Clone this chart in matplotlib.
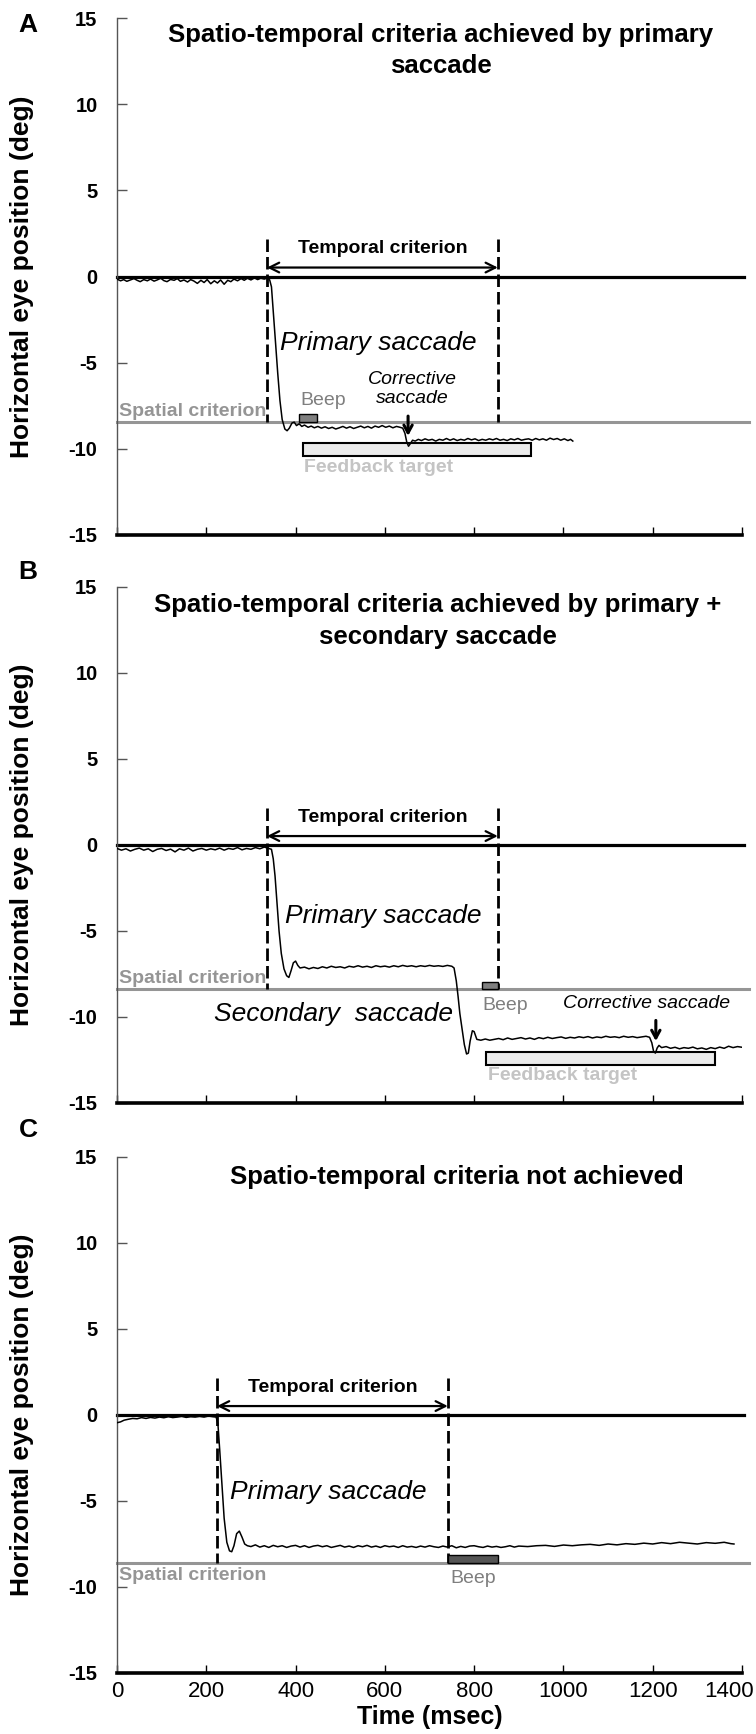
import matplotlib
matplotlib.use("Agg")
import matplotlib.pyplot as plt
from matplotlib.patches import Rectangle
from matplotlib.transforms import ScaledTranslation

plt.rcParams['font.family'] = ['Liberation Sans', 'DejaVu Sans']
plt.rcParams['axes.unicode_minus'] = False

# eye traces (time in msec, position in deg)
trace_a_t = [0, 8, 15, 22, 30, 38, 45, 52, 60, 68, 75, 83, 90, 98, 105, 112, 120, 128, 135, 142,
             150, 158, 165, 172, 180, 188, 195, 202, 210, 218, 225, 232, 240, 248, 255, 262, 270,
             278, 285, 292, 300, 308, 315, 322, 330, 337, 342, 346, 350, 355, 360, 365, 370, 376,
             381, 386, 392, 397, 402, 408, 414, 420, 428, 435, 442, 450, 458, 466, 474, 482, 490,
             498, 506, 514, 522, 530, 538, 546, 554, 562, 570, 578, 586, 594, 602, 610, 618, 626,
             634, 640, 645, 649, 653, 657, 662, 668, 675, 682, 690, 698, 706, 714, 722, 730, 738,
             746, 754, 762, 770, 778, 786, 794, 802, 810, 818, 826, 834, 842, 850, 858, 866, 874,
             882, 890, 898, 906, 914, 922, 930, 938, 946, 954, 962, 970, 978, 986, 994, 1002, 1010,
             1016, 1021]
trace_a_y = [-0.15, -0.25, -0.18, -0.28, -0.2, -0.12, -0.22, -0.3, -0.18, -0.25, -0.15, -0.27,
             -0.2, -0.1, -0.24, -0.3, -0.17, -0.22, -0.12, -0.28, -0.2, -0.32, -0.18, -0.26, -0.4,
             -0.22, -0.35, -0.18, -0.42, -0.25, -0.38, -0.2, -0.45, -0.22, -0.3, -0.15, -0.25, -0.12,
             -0.22, -0.1, -0.2, -0.08, -0.18, -0.1, -0.15, -0.08, -0.2, -0.6, -2.0, -3.8, -5.6,
             -7.2, -8.3, -8.85, -8.95, -8.8, -8.5, -8.45, -8.65, -8.55, -8.7, -8.62, -8.75, -8.68,
             -8.78, -8.7, -8.8, -8.72, -8.82, -8.75, -8.85, -8.78, -8.7, -8.8, -8.72, -8.82, -8.75,
             -8.68, -8.78, -8.7, -8.8, -8.68, -8.75, -8.65, -8.75, -8.68, -8.78, -8.7, -8.75, -8.8,
             -9.1, -9.6, -9.85, -9.7, -9.5, -9.55, -9.45, -9.52, -9.42, -9.5, -9.45, -9.55, -9.45,
             -9.5, -9.4, -9.5, -9.42, -9.52, -9.45, -9.5, -9.4, -9.48, -9.42, -9.52, -9.45, -9.5,
             -9.42, -9.48, -9.4, -9.5, -9.45, -9.52, -9.42, -9.48, -9.4, -9.5, -9.45, -9.42, -9.5,
             -9.4, -9.48, -9.42, -9.5, -9.38, -9.46, -9.4, -9.5, -9.42, -9.52, -9.45, -9.55]

trace_b_t = [0, 10, 20, 30, 40, 50, 60, 70, 80, 90, 100, 110, 120, 130, 140, 150, 160, 170, 180,
             190, 200, 210, 220, 230, 240, 250, 260, 270, 280, 290, 300, 310, 320, 330, 340,
             346, 350, 354, 358, 363, 368, 374, 380, 385, 390, 395, 400, 405, 410,
             420, 430, 440, 450, 460, 470, 480, 490, 500, 510, 520, 530, 540, 550, 560, 570, 580,
             590, 600, 610, 620, 630, 640, 650, 660, 670, 680, 690, 700, 710, 720, 730, 740, 750,
             755, 760, 764, 768, 773, 778, 783, 787, 791, 796, 800, 806,
             815, 825, 835, 845, 855, 865, 875, 885, 895, 905, 915, 925, 935, 945, 955, 965, 975,
             985, 995, 1005, 1015, 1025, 1035, 1045, 1055, 1065, 1075, 1085, 1095, 1105, 1115,
             1125, 1135, 1145, 1155, 1165, 1175, 1185,
             1193, 1198, 1202, 1206, 1210, 1214,
             1220, 1230, 1240, 1250, 1260, 1270, 1280, 1290, 1300, 1310, 1320, 1330, 1340, 1350,
             1360, 1370, 1380, 1390, 1400]
trace_b_y = [-0.2, -0.3, -0.22, -0.35, -0.25, -0.18, -0.3, -0.22, -0.38, -0.25, -0.2, -0.32,
             -0.24, -0.4, -0.22, -0.3, -0.18, -0.35, -0.25, -0.2, -0.3, -0.22, -0.28, -0.18, -0.3,
             -0.2, -0.25, -0.15, -0.28, -0.2, -0.25, -0.15, -0.22, -0.12, -0.2,
             -0.25, -0.8, -1.8, -3.2, -5.0, -6.3, -7.2, -7.6, -7.7, -7.3, -6.85, -6.75, -7.0, -7.15,
             -7.1, -7.2, -7.12, -7.18, -7.08, -7.15, -7.05, -7.12, -7.08, -7.15,
             -7.05, -7.1, -7.02, -7.1, -7.05, -7.12, -7.02, -7.08, -7.04, -7.1,
             -7.02, -7.08, -7.0, -7.06, -7.02, -7.08, -7.02, -7.06, -7.0, -7.05,
             -7.02, -7.06, -7.0, -7.05,
             -7.15, -7.9, -8.8, -9.8, -10.7, -11.6, -12.15, -12.1, -11.4, -10.8, -10.85, -11.3,
             -11.35, -11.28, -11.35, -11.3, -11.25, -11.32, -11.22, -11.3, -11.25, -11.2,
             -11.28, -11.22, -11.3, -11.2, -11.26, -11.18, -11.25, -11.2, -11.16, -11.24,
             -11.18, -11.22, -11.15, -11.2, -11.14, -11.22, -11.16, -11.2, -11.12, -11.18,
             -11.15, -11.2, -11.12, -11.18, -11.14, -11.2, -11.16, -11.12,
             -11.18, -11.5, -12.0, -12.1, -11.8, -11.65,
             -11.78, -11.72, -11.82, -11.76, -11.85, -11.78, -11.82, -11.75, -11.85, -11.8,
             -11.88, -11.78, -11.84, -11.75, -11.82, -11.7, -11.78, -11.72, -11.76]

trace_c_t = [0, 8, 16, 25,
             35, 45, 55, 65, 75, 85, 95, 105, 115, 125, 135, 145, 155, 165, 175, 185, 195, 205, 215,
             222, 226, 230, 235, 240, 246, 252, 257, 262, 268, 274, 280, 286, 292,
             300, 310, 320, 330, 340, 350, 360, 370, 380, 390, 400, 410, 420, 430, 440, 450, 460,
             470, 480, 490, 500, 510, 520, 530, 540, 550, 560, 570, 580, 590, 600, 610, 620, 630,
             640, 650, 660, 670, 680, 690, 700, 710, 720, 730, 740, 750, 760, 770, 780, 790, 800,
             810, 820, 830, 840, 850, 860, 870, 880, 890, 900,
             920, 940, 960, 980, 1000, 1020, 1040, 1060, 1080, 1100, 1120, 1140, 1160, 1180, 1200,
             1220, 1240, 1260, 1280, 1300, 1320, 1340, 1360,
             1375, 1382]
trace_c_y = [-0.45, -0.4, -0.3, -0.25,
             -0.2, -0.22, -0.15, -0.2, -0.14, -0.18, -0.12, -0.16, -0.1, -0.15, -0.12, -0.08,
             -0.14, -0.1, -0.12, -0.08, -0.12, -0.06, -0.1,
             -0.12, -0.5, -2.0, -4.0, -6.0, -7.4, -7.9, -7.95, -7.6, -6.9, -6.75, -7.1, -7.5, -7.6,
             -7.65, -7.55, -7.68, -7.6, -7.7, -7.58, -7.66, -7.6, -7.7, -7.62,
             -7.58, -7.68, -7.6, -7.7, -7.62, -7.58, -7.66, -7.6, -7.7, -7.64,
             -7.58, -7.68, -7.62, -7.7, -7.6, -7.66, -7.58, -7.68, -7.62, -7.7,
             -7.6, -7.66, -7.62, -7.7, -7.6, -7.68, -7.64, -7.7, -7.62, -7.68,
             -7.6, -7.66, -7.7, -7.62, -7.68, -7.6, -7.72, -7.64, -7.7, -7.62,
             -7.6, -7.66, -7.7, -7.62, -7.68, -7.64, -7.7, -7.66, -7.6, -7.68,
             -7.62,
             -7.65, -7.6, -7.58, -7.64, -7.56, -7.6, -7.55, -7.52, -7.58, -7.5,
             -7.55, -7.48, -7.52, -7.45, -7.5, -7.42, -7.48, -7.4, -7.45, -7.5,
             -7.42, -7.46, -7.4,
             -7.48, -7.5]

# task events
temporal_a = [336, 853]
temporal_b = [336, 853]
temporal_c = [224, 741]
spatial_a = -8.45
spatial_b = -8.4
spatial_c = -8.6
beep_a = [408, 448]
beep_b = [818, 853]
beep_c = [741, 853]
feedback_a = [417, 927]
feedback_b = [826, 1340]

titles = ['Spatio-temporal criteria achieved by primary\nsaccade',
          'Spatio-temporal criteria achieved by primary +\nsecondary saccade',
          'Spatio-temporal criteria not achieved']
panel_labels = ['A', 'B', 'C']
x_ticks = [0, 200, 400, 600, 800, 1000, 1200, 1400]
y_ticks = [-15, -10, -5, 0, 5, 10, 15]

SPATIAL_GRAY = '#959595'


def style_axes(ax, show_xlabels):
    ax.set_xlim(0, 1400)
    ax.set_ylim(-15, 15)
    ax.set_xticks(x_ticks)
    ax.set_yticks(y_ticks)
    ax.spines['top'].set_visible(False)
    ax.spines['right'].set_visible(False)
    ax.spines['left'].set_color('#555555')
    ax.spines['left'].set_linewidth(1.0)
    ax.spines['bottom'].set_color('black')
    ax.spines['bottom'].set_linewidth(2.6)
    ax.tick_params(axis='y', direction='in', length=7, width=1, color='#555555', pad=14,
                   labelsize=14.5)
    ax.tick_params(axis='x', direction='in', length=6, width=1, pad=6, labelsize=16)
    for lab in ax.get_yticklabels():
        lab.set_fontweight('bold')
    if not show_xlabels:
        ax.set_xticklabels([])


def draw_common(ax, t, y, temporal, spatial):
    ax.plot([0, 1405], [0, 0], color='black', lw=2.3, clip_on=False, zorder=2)
    ax.plot([0, 1415], [spatial, spatial], color=SPATIAL_GRAY, lw=2.2, clip_on=False, zorder=1)
    for tx in temporal:
        ax.plot([tx, tx], [2.15, spatial], color='black', lw=2.0, dashes=(4.5, 1.8), zorder=3)
    ax.annotate('', xy=(temporal[1], 0.52), xytext=(temporal[0], 0.52),
                arrowprops=dict(arrowstyle='<->,head_length=0.7,head_width=0.35', lw=1.6,
                                color='black', shrinkA=0, shrinkB=0))
    ax.text((temporal[0] + temporal[1]) / 2, 1.6, 'Temporal criterion', ha='center',
            va='center', fontsize=14, fontweight='bold')
    ax.plot(t, y, color='black', lw=1.1, zorder=4)


def draw_beep(ax, beep, spatial, color):
    ax.add_patch(Rectangle((beep[0], spatial), beep[1] - beep[0], 0.45, facecolor=color,
                           edgecolor='black', lw=1.0, zorder=3))


def draw_feedback(ax, fb, y0):
    ax.add_patch(Rectangle((fb[0], y0), fb[1] - fb[0], 0.75, facecolor='#ebebeb',
                           edgecolor='black', lw=1.5, zorder=3))


fig = plt.figure(figsize=(7.56, 17.34), dpi=100)
left, width = 117 / 756, 625 / 756
axA = fig.add_axes([left, 1 - 535 / 1734, width, 517 / 1734])
axB = fig.add_axes([left, 1 - 1103 / 1734, width, 516 / 1734])
axC = fig.add_axes([left, 1 - 1673 / 1734, width, 516 / 1734])

# panel A
style_axes(axA, False)
draw_common(axA, trace_a_t, trace_a_y, temporal_a, spatial_a)
draw_beep(axA, beep_a, spatial_a, '#7f7f7f')
draw_feedback(axA, feedback_a, -10.42)
axA.text(5, spatial_a + 0.15, 'Spatial criterion', color=SPATIAL_GRAY, fontsize=14,
         fontweight='bold', va='bottom', ha='left')
axA.text(585, -3.85, 'Primary saccade', fontsize=19, style='italic', ha='center', va='center')
axA.text(461, -7.2, 'Beep', fontsize=14, color='#7f7f7f', ha='center', va='center')
axA.text(661, -6.55, 'Corrective\nsaccade', fontsize=14, style='italic', ha='center',
         va='center', linespacing=1.15)
axA.annotate('', xy=(652, -9.25), xytext=(652, -8.1),
             arrowprops=dict(arrowstyle='->,head_length=0.55,head_width=0.3', lw=2.2,
                             color='black', shrinkA=0, shrinkB=0))
axA.text(587, -11.1, 'Feedback target', color='#c4c4c4', fontsize=14, fontweight='bold',
         ha='center', va='center')

# panel B
style_axes(axB, False)
draw_common(axB, trace_b_t, trace_b_y, temporal_b, spatial_b)
draw_beep(axB, beep_b, spatial_b, '#7f7f7f')
draw_feedback(axB, feedback_b, -12.8)
axB.text(5, spatial_b + 0.15, 'Spatial criterion', color=SPATIAL_GRAY, fontsize=14,
         fontweight='bold', va='bottom', ha='left')
axB.text(596, -4.1, 'Primary saccade', fontsize=19, style='italic', ha='center', va='center')
axB.text(484, -9.8, 'Secondary  saccade', fontsize=19, style='italic', ha='center',
         va='center')
axB.text(870, -9.35, 'Beep', fontsize=14, color='#7f7f7f', ha='center', va='center')
axB.text(1187, -9.2, 'Corrective saccade', fontsize=14, style='italic', ha='center',
         va='center')
axB.annotate('', xy=(1207, -11.4), xytext=(1207, -10.2),
             arrowprops=dict(arrowstyle='->,head_length=0.55,head_width=0.3', lw=2.2,
                             color='black', shrinkA=0, shrinkB=0))
axB.text(997, -13.4, 'Feedback target', color='#c4c4c4', fontsize=14, fontweight='bold',
         ha='center', va='center')

# panel C
style_axes(axC, True)
draw_common(axC, trace_c_t, trace_c_y, temporal_c, spatial_c)
draw_beep(axC, beep_c, spatial_c, '#555555')
axC.text(5, spatial_c - 0.25, 'Spatial criterion', color=SPATIAL_GRAY, fontsize=14,
         fontweight='bold', va='top', ha='left')
axC.text(473, -4.5, 'Primary saccade', fontsize=19, style='italic', ha='center', va='center')
axC.text(797, -9.5, 'Beep', fontsize=14, color='#7f7f7f', ha='center', va='center')
axC.set_xlabel('Time (msec)', fontsize=18, fontweight='bold', labelpad=2)

# the last time label sits a little left so it stays inside the figure
last_lab = axC.get_xticklabels()[-1]
last_lab.set_transform(last_lab.get_transform() +
                       ScaledTranslation(-0.13, 0, fig.dpi_scale_trans))

# titles, panel letters, y labels
title_pos = [(0.518, 0.937), (0.513, 0.934), (0.543, 0.961)]
for ax, title, (tx, ty), letter in zip([axA, axB, axC], titles, title_pos, panel_labels):
    ax.text(tx, ty, title, transform=ax.transAxes, ha='center', va='center', fontsize=18.5,
            fontweight='bold', linespacing=1.38)
    bb = ax.get_position()
    fig.text(0.029, bb.y0 + bb.height / 2, 'Horizontal eye position (deg)', rotation=90,
             ha='center', va='center', fontsize=19, fontweight='bold')

fig.text(28 / 756, 1 - 25 / 1734, 'A', fontsize=19, fontweight='bold', ha='center', va='center')
fig.text(28 / 756, 1 - 572 / 1734, 'B', fontsize=19, fontweight='bold', ha='center', va='center')
fig.text(28 / 756, 1 - 1130 / 1734, 'C', fontsize=19, fontweight='bold', ha='center', va='center')

fig.savefig('out.png', dpi=100)
